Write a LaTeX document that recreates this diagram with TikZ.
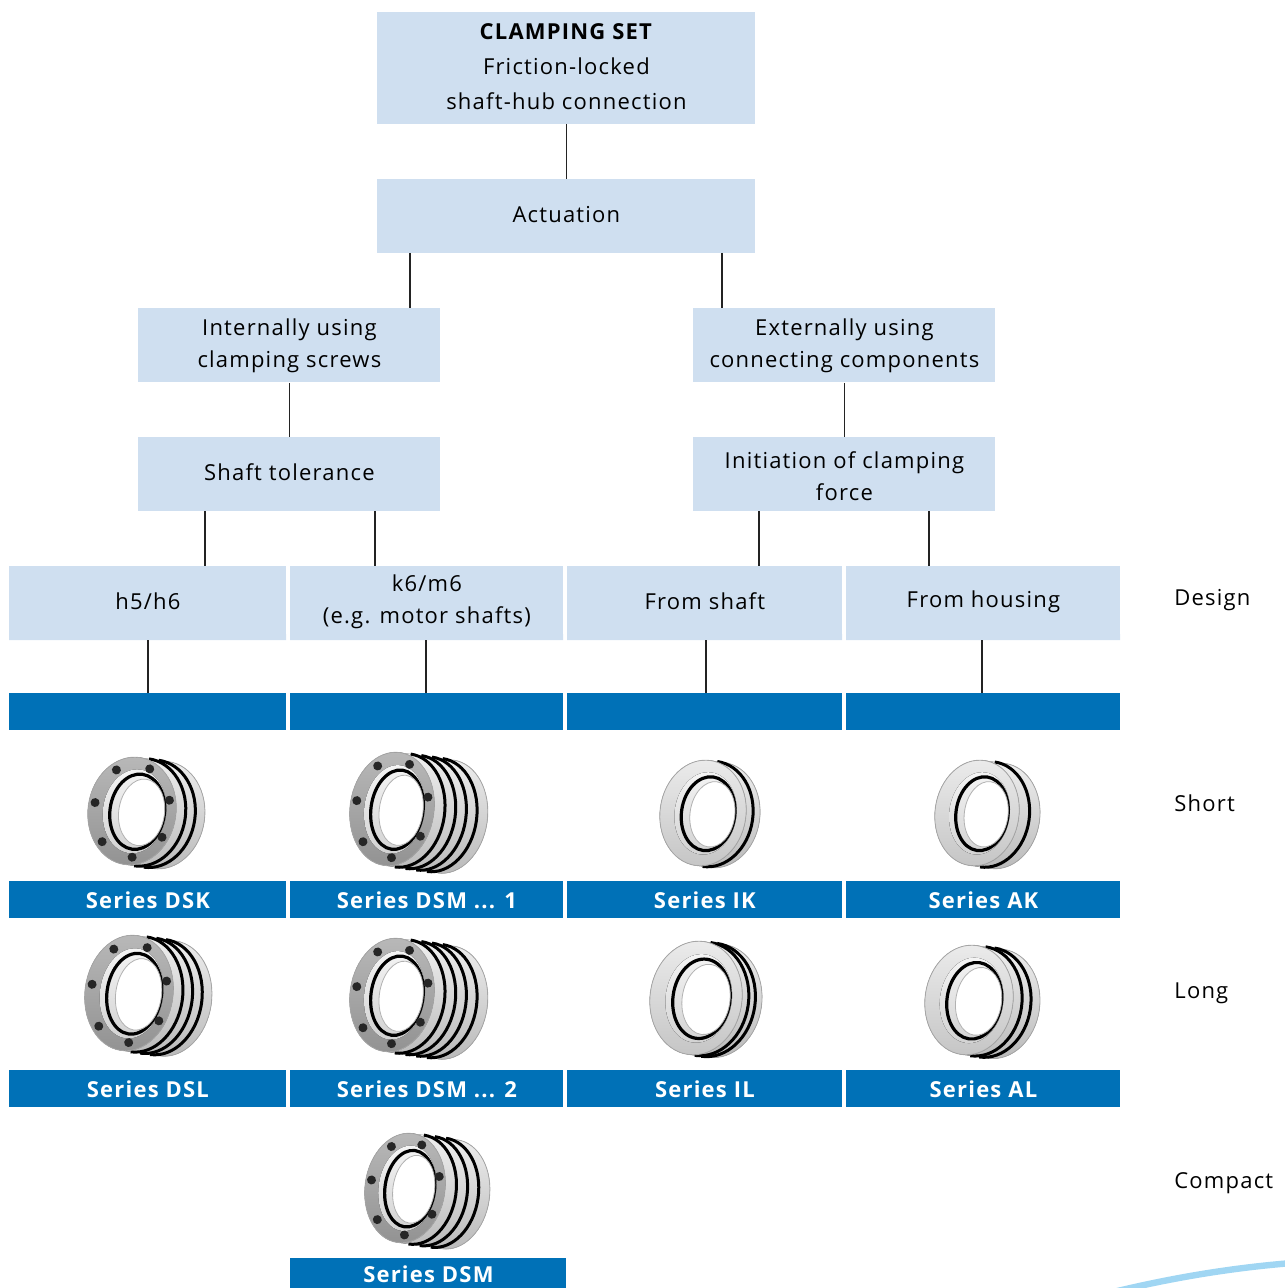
\documentclass[tikz,border=0pt]{standalone}
\usepackage{fontspec}
\setmainfont[LetterSpace=5.5]{Open Sans}
\definecolor{lightbox}{RGB}{207,223,240}
\definecolor{darkbox}{RGB}{0,113,183}
\definecolor{linecol}{RGB}{35,35,35}
\definecolor{swooshcol}{RGB}{160,214,243}
\newcommand\boxnode[7]{%
  \node[#7, minimum width={(#4-#2)*0.5pt}, minimum height={(#5-#3)*0.5pt}, anchor=north west] (#1) at (#2,#3) {#6};}
\newcommand\ringimg[8]{%
  \begin{scope}[shift={(#1,#2)}, y=0.5pt, rotate=-8]
    \fill[top color=gray!12, bottom color=gray!55] (0,#4) -- (#5,#4) arc[start angle=90,end angle=-90,x radius=#3,y radius=#4] -- (0,-#4) -- cycle;
    \draw[gray!70, line width=0.4pt] (#5,#4) arc[start angle=90,end angle=-90,x radius=#3,y radius=#4];
    \foreach \i in {1,...,#6}{\draw[black, line width=1.5pt] ({\i*#5/(#6+1)},#4) arc[start angle=90,end angle=-90,x radius=#3,y radius=#4];}
    \fill[#7] (0,0) ellipse[x radius=#3, y radius=#4];
    \draw[gray!70, line width=0.4pt] (0,0) ellipse[x radius=#3, y radius=#4];
    \fill[top color=gray!8, bottom color=gray!35] ({0.06*#3},0) ellipse[x radius={0.72*#3}, y radius={0.78*#4}];
    \draw[black, line width=1.6pt] ({0.12*#3},0) ellipse[x radius={0.62*#3}, y radius={0.7*#4}];
    \fill[white] ({0.22*#3},0) ellipse[x radius={0.52*#3}, y radius={0.62*#4}];
    \draw[gray!60, line width=0.4pt] ({0.22*#3},0) ellipse[x radius={0.52*#3}, y radius={0.62*#4}];
    \ifnum#8=1
      \foreach \a in {20,72,124,176,228,280,332}{\fill[black!85] ({0.86*#3*cos(\a)},{0.86*#4*sin(\a)}) circle[radius=4.5];}
    \fi
  \end{scope}}
\begin{document}
\begin{tikzpicture}[x=0.5pt,y=-0.5pt,
  lbox/.style={fill=lightbox, inner sep=0pt, align=center, text=black, font=\fontsize{11}{16}\selectfont},
  topbox/.style={lbox, font=\fontsize{11}{17.5}\selectfont},
  dbox/.style={fill=darkbox, inner sep=0pt, align=center, text=white, font=\fontsize{11}{16}\selectfont\bfseries},
  conn/.style={draw=linecol, line width=0.7pt},
  rowlabel/.style={anchor=west, inner sep=0pt, text=black, font=\fontsize{11}{16}\selectfont},
  ringdark/.style={top color=gray!55, bottom color=gray!85},
  ringsilver/.style={top color=gray!15, bottom color=gray!45}]
\useasboundingbox (0,0) rectangle (1284,1288);

% tree boxes
\boxnode{top}{377}{12}{755}{120}{\textbf{CLAMPING SET}\\Friction-locked\\shaft-hub connection}{topbox}
\fill[lightbox] (377,118) rectangle (755,124);
\boxnode{act}{377}{179}{755}{250}{Actuation}{lbox}
\fill[lightbox] (377,248) rectangle (755,253);
\boxnode{int}{138}{308}{440}{382}{Internally using\\clamping screws}{lbox}
\boxnode{ext}{693}{308}{995}{382}{Externally using\\connecting components}{lbox}
\boxnode{tol}{138}{437}{440}{507}{Shaft tolerance}{lbox}
\fill[lightbox] (138,505) rectangle (440,511);
\boxnode{ini}{693}{437}{995}{514}{Initiation of clamping\\force}{lbox}
\fill[white] (693,511) rectangle (995,515);
\boxnode{hfive}{9}{566}{286}{636}{h5/h6}{lbox}
\boxnode{ksix}{290}{566}{563}{636}{k6/m6\\(e.g. motor shafts)}{lbox}
\boxnode{fshaft}{567}{566}{842}{636}{From shaft}{lbox}
\boxnode{fhous}{846}{566}{1120}{636}{From housing}{lbox}
\fill[lightbox] (9,634) rectangle (286,640) (290,634) rectangle (563,640) (567,634) rectangle (842,640) (846,634) rectangle (1120,640);

% blue header bars
\boxnode{bA}{9}{693}{286}{730}{}{dbox}
\boxnode{bB}{290}{693}{563}{730}{}{dbox}
\boxnode{bC}{567}{693}{842}{730}{}{dbox}
\boxnode{bD}{846}{693}{1120}{730}{}{dbox}

% series bars
\boxnode{dsk}{9}{881}{286}{918}{Series DSK}{dbox}
\boxnode{dsmone}{290}{881}{563}{918}{Series DSM ... 1}{dbox}
\boxnode{ik}{567}{881}{842}{918}{Series IK}{dbox}
\boxnode{ak}{846}{881}{1120}{918}{Series AK}{dbox}
\boxnode{dsl}{9}{1070}{286}{1107}{Series DSL}{dbox}
\boxnode{dsmtwo}{290}{1070}{563}{1107}{Series DSM ... 2}{dbox}
\boxnode{il}{567}{1070}{842}{1107}{Series IL}{dbox}
\boxnode{al}{846}{1070}{1120}{1107}{Series AL}{dbox}
\boxnode{dsm}{290}{1258}{566}{1289}{Series DSM}{dbox}

% connectors
\draw[conn] (top.south |- 0,124) -- (act.north);
\draw[conn] (410,253) -- (int.north -| 410,0);
\draw[conn] (722,253) -- (ext.north -| 722,0);
\draw[conn] (int.south) -- (tol.north);
\draw[conn] (ext.south) -- (ini.north);
\draw[conn] (205,511) -- (hfive.north -| 205,0);
\draw[conn] (375,511) -- (ksix.north -| 375,0);
\draw[conn] (759,511) -- (fshaft.north -| 759,0);
\draw[conn] (929,511) -- (fhous.north -| 929,0);
\draw[conn] (148,640) -- (bA.north -| 148,0);
\draw[conn] (426,640) -- (bB.north -| 426,0);
\draw[conn] (706,640) -- (bC.north -| 706,0);
\draw[conn] (982,640) -- (bD.north -| 982,0);

% row labels
\node[rowlabel] (lDesign) at (1174,600) {Design};
\node[rowlabel] (lShort) at (1174,803) {Short};
\node[rowlabel] (lLong) at (1174,993) {Long};
\node[rowlabel] (lCompact) at (1174,1183) {Compact};

% product pictures
\ringimg{132}{811}{44}{54}{29}{2}{ringdark}{1}
\ringimg{392}{809}{42}{57}{54}{4}{ringdark}{1}
\ringimg{703}{813}{43}{53}{14}{1}{ringsilver}{0}
\ringimg{977}{813}{42}{53}{21}{1}{ringsilver}{0}
\ringimg{129}{993}{44}{58}{39}{3}{ringdark}{1}
\ringimg{392}{995}{42}{57}{54}{4}{ringdark}{1}
\ringimg{696}{998}{46}{57}{20}{2}{ringsilver}{0}
\ringimg{969}{1000}{44}{55}{27}{2}{ringsilver}{0}
\ringimg{405}{1188}{40}{55}{45}{3}{ringdark}{1}

% swoosh
\draw[swooshcol, line width=3.2pt] (1105,1294) .. controls (1170,1278) and (1230,1268) .. (1292,1263);
\end{tikzpicture}
\end{document}
